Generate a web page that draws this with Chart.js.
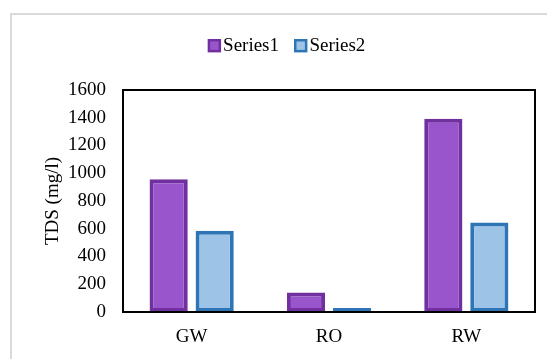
<!DOCTYPE html>
<html>
<head>
<meta charset="utf-8">
<script src="https://cdn.jsdelivr.net/npm/chart.js@4/dist/chart.umd.min.js"></script>
<style>
  html, body { margin: 0; padding: 0; background: #fff; }
  #wrap { position: relative; width: 547px; height: 359px; overflow: hidden; }
  #frame { position: absolute; left: 10px; top: 13px; width: 600px; height: 400px;
           border-left: 2px solid #d9d9d9; border-top: 2px solid #d9d9d9; box-sizing: border-box; }
  canvas { position: absolute; left: 0; top: 0; }
</style>
</head>
<body>
<div id="wrap">
  <div id="frame"></div>
  <canvas id="c" width="547" height="359"></canvas>
</div>
<script>
const categories = ["GW", "RO", "RW"];
const series1 = [956, 140, 1393];
const series2 = [585, 28, 645];
const seriesNames = ["Series1", "Series2"];
const yTicks = [0, 200, 400, 600, 800, 1000, 1200, 1400, 1600];

const FONT = '"Liberation Serif", "Times New Roman", serif';
const AREA = { left: 123, right: 535, top: 90, bottom: 312 };

const frameAndLegend = {
  id: 'frameAndLegend',
  afterDraw(chart) {
    const ctx = chart.ctx;
    const a = chart.chartArea;
    ctx.save();
    ctx.strokeStyle = '#000';
    ctx.lineWidth = 2;
    ctx.strokeRect(a.left, a.top, a.right - a.left, a.bottom - a.top);
    // legend
    ctx.font = '19px ' + FONT;
    ctx.textBaseline = 'middle';
    ctx.textAlign = 'left';
    const box = 13.4, gapText = 2, gapItem = 15;
    const items = chart.data.datasets.map(d => ({ d, w: ctx.measureText(d.label).width }));
    const total = items.reduce((s, it) => s + box + gapText + it.w, 0) + gapItem * (items.length - 1);
    let x = 286.5 - total / 2;
    const cy = 45.7;
    items.forEach(it => {
      ctx.fillStyle = it.d.borderColor;
      ctx.fillRect(x, cy - box / 2, box, box);
      ctx.fillStyle = it.d.backgroundColor;
      ctx.fillRect(x + 2.5, cy - box / 2 + 2.5, box - 5, box - 5);
      ctx.fillStyle = '#000';
      ctx.fillText(it.d.label, x + box + gapText, cy + 0.5);
      x += box + gapText + it.w + gapItem;
    });
    ctx.restore();
  }
};

new Chart(document.getElementById('c'), {
  type: 'bar',
  data: {
    labels: categories,
    datasets: [
      { label: seriesNames[0], data: series1, backgroundColor: '#9955cc', borderColor: '#7030a0',
        borderWidth: 4, borderSkipped: false },
      { label: seriesNames[1], data: series2, backgroundColor: '#9dc3e6', borderColor: '#2e75b6',
        borderWidth: 4, borderSkipped: false }
    ]
  },
  options: {
    responsive: false,
    animation: false,
    categoryPercentage: 0.67,
    barPercentage: 0.83,
    layout: { padding: { left: 0, right: 547 - AREA.right, top: AREA.top, bottom: 0 } },
    plugins: { legend: { display: false }, tooltip: { enabled: false } },
    scales: {
      x: {
        grid: { display: false, drawTicks: false },
        border: { display: false },
        ticks: { color: '#000', font: { family: FONT, size: 19 }, padding: 13.6, maxRotation: 0 },
        afterFit(s) { s.height = 359 - AREA.bottom; }
      },
      y: {
        min: 0, max: 1600,
        grid: { display: false, drawTicks: false },
        border: { display: false },
        afterBuildTicks(s) { s.ticks = yTicks.map(v => ({ value: v })); },
        ticks: { color: '#000', font: { family: FONT, size: 19 }, padding: 17,
                 callback: v => String(v) },
        title: { display: true, text: 'TDS (mg/l)', color: '#000',
                 font: { family: FONT, size: 19, lineHeight: 1.2 }, padding: { top: 41.6, bottom: 0 } },
        afterFit(s) { s.width = AREA.left; }
      }
    }
  },
  plugins: [frameAndLegend]
});
</script>
</body>
</html>
